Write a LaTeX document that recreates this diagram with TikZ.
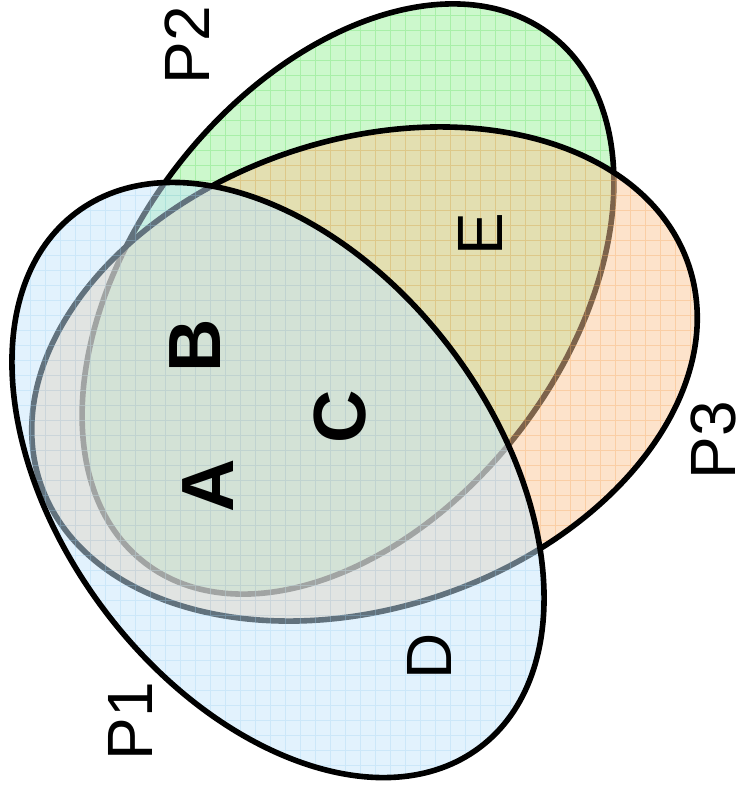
\documentclass[tikz,border=0pt]{standalone}
\usepackage{fontspec}
\setmainfont{Liberation Sans}
\definecolor{gfill}{HTML}{CCF8CC}
\definecolor{ggrid}{HTML}{A8EFA8}
\definecolor{ofill}{HTML}{FBC797}
\definecolor{ogrid}{HTML}{F5A860}
\definecolor{bfill}{HTML}{C5E5FB}
\definecolor{bgrid}{HTML}{9CCFF2}
\begin{document}
\begin{tikzpicture}[x=1pt,y=1pt,
  outline/.style={draw=black, line width=5.6pt},
  gridline/.style={line width=0.7pt},
  lbl/.style={rotate=90, inner sep=0pt, font=\fontsize{64}{64}\selectfont},
  blbl/.style={rotate=90, inner sep=0pt, font=\fontsize{74}{74}\selectfont\bfseries}]
\useasboundingbox (0,0) rectangle (741,-788);
% P2 (green)
\fill[gfill, rotate around={52.4:(348,-299)}] (348,-299) ellipse [x radius=333, y radius=216.5];
\begin{scope}
  \clip[rotate around={52.4:(348,-299)}] (348,-299) ellipse [x radius=333, y radius=216.5];
  \draw[gridline, ggrid, step=15] (-5,5) grid (745,-790);
\end{scope}
\draw[outline, rotate around={52.4:(348,-299)}] (348,-299) ellipse [x radius=333, y radius=216.5];
% P3 (orange)
\fill[ofill, fill opacity=0.5, rotate around={18.5:(364.5,-374)}] (364.5,-374) ellipse [x radius=342, y radius=234];
\begin{scope}
  \clip[rotate around={18.5:(364.5,-374)}] (364.5,-374) ellipse [x radius=342, y radius=234];
  \draw[gridline, ogrid, draw opacity=0.35, step=15] (-5,5) grid (745,-790);
\end{scope}
\draw[outline, rotate around={18.5:(364.5,-374)}] (364.5,-374) ellipse [x radius=342, y radius=234];
% P1 (blue)
\fill[bfill, fill opacity=0.5, rotate around={-52.9:(278,-480)}] (278,-480) ellipse [x radius=335, y radius=217];
\begin{scope}
  \clip[rotate around={-52.9:(278,-480)}] (278,-480) ellipse [x radius=335, y radius=217];
  \draw[gridline, bgrid, draw opacity=0.3, step=15] (-5,5) grid (745,-790);
\end{scope}
\draw[outline, rotate around={-52.9:(278,-480)}] (278,-480) ellipse [x radius=335, y radius=217];
% labels
\node[lbl] (p2) at (187,-45) {P2};
\node[lbl] (p3) at (713,-440) {P3};
\node[lbl] (p1) at (130,-721) {P1};
\node[lbl] (e) at (480,-234) {E};
\node[lbl] (d) at (429,-656) {D};
\node[blbl] (b) at (195,-346) {B};
\node[blbl] (c) at (340,-417) {C};
\node[blbl] (a) at (208,-486) {A};
\end{tikzpicture}
\end{document}
